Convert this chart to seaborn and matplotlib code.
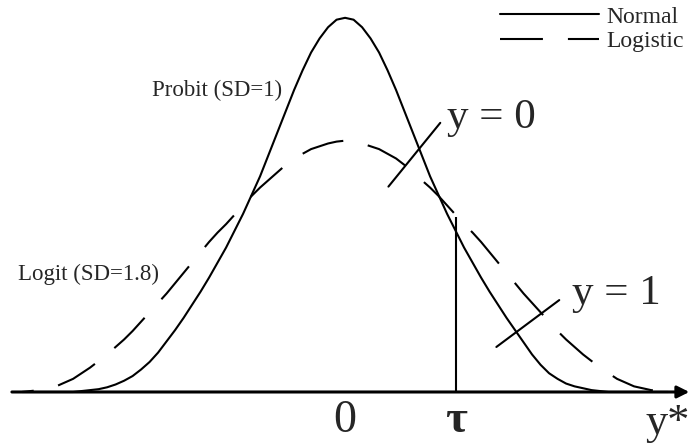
import matplotlib
matplotlib.use("Agg")
import numpy as np
import pandas as pd
import matplotlib.pyplot as plt
import seaborn as sns
from matplotlib.lines import Line2D

# Latent variable grid (in SD units of the probit curve), -3.8 .. 3.8 step 0.1
y_star = np.round(np.arange(-38, 39) / 10, 1)

# Heights (left tail -> peak -> right tail)
normal_density = [
    0.000, 0.000, 0.000, 0.000, 0.000, 0.000, 0.000, 0.001, 0.002,
    0.003, 0.005, 0.008, 0.012, 0.017, 0.024, 0.032, 0.042, 0.054, 0.066,
    0.079, 0.093, 0.107, 0.122, 0.138, 0.154, 0.172, 0.190, 0.210, 0.230,
    0.253, 0.276, 0.299, 0.322, 0.343, 0.362, 0.377, 0.389, 0.397,
    0.399,
    0.397, 0.389, 0.377, 0.362, 0.343, 0.322, 0.299, 0.276, 0.253, 0.230,
    0.210, 0.190, 0.172, 0.154, 0.138, 0.122, 0.107, 0.093, 0.079, 0.066,
    0.053, 0.040, 0.029, 0.020, 0.014, 0.009, 0.006, 0.004, 0.002, 0.001,
    0.000, 0.000, 0.000, 0.000, 0.000, 0.000, 0.000, 0.000]
logistic_density = [
    0.000, 0.001, 0.002, 0.004, 0.006, 0.010, 0.014, 0.020, 0.026,
    0.033, 0.040, 0.048, 0.056, 0.065, 0.075, 0.085, 0.095, 0.105, 0.116,
    0.127, 0.138, 0.149, 0.160, 0.170, 0.179, 0.189, 0.199, 0.209, 0.218,
    0.226, 0.234, 0.242, 0.249, 0.254, 0.259, 0.262, 0.265, 0.267,
    0.268,
    0.267, 0.265, 0.262, 0.259, 0.254, 0.249, 0.242, 0.234, 0.226,
    0.218, 0.209, 0.199, 0.189, 0.179, 0.170, 0.160, 0.149, 0.138, 0.127,
    0.116, 0.105, 0.095, 0.085, 0.075, 0.065, 0.056, 0.048, 0.040, 0.033,
    0.026, 0.020, 0.014, 0.010, 0.006, 0.004, 0.002, 0.001, 0.000]

# Threshold and the top of its marker line
tau = 1.3
tau_top = 0.187

# Leader lines for the outcome labels
lead0_x = [0.51, 1.12]
lead0_y = [0.219, 0.287]
lead1_x = [1.78, 2.52]
lead1_y = [0.048, 0.098]

df = pd.DataFrame({"y_star": y_star, "normal": normal_density, "logistic": logistic_density})

sns.set_style("white")
plt.rcParams["font.family"] = ["Liberation Serif", "DejaVu Serif"]

fig = plt.figure(figsize=(6.91, 4.46), dpi=100)
ax = fig.add_axes([0, 0, 1, 1])

LW = 1.5
DASH = (20.6, 12)

sns.lineplot(data=df, x="y_star", y="normal", ax=ax, color="black", linewidth=LW)
sns.lineplot(data=df, x="y_star", y="logistic", ax=ax, color="black", linewidth=LW,
             linestyle=(15, DASH))

# horizontal axis with arrow
ax.annotate("", xy=(4.05, 0), xytext=(-3.92, 0),
            arrowprops=dict(arrowstyle="-|>", lw=2.2, color="black",
                            mutation_scale=18, shrinkA=0, shrinkB=0))

ax.vlines(tau, 0, tau_top, color="black", linewidth=LW)
ax.plot(lead0_x, lead0_y, color="black", linewidth=LW)
ax.plot(lead1_x, lead1_y, color="black", linewidth=LW)

ax.text(-2.27, 0.316, "Probit (SD=1)", fontsize=16.5, ha="left", va="baseline")
ax.text(-3.85, 0.119, "Logit (SD=1.8)", fontsize=16.5, ha="left", va="baseline")
ax.text(1.2, 0.281, "y = 0", fontsize=31, ha="left", va="baseline")
ax.text(2.67, 0.0937, "y = 1", fontsize=31, ha="left", va="baseline")

ax.text(0.0, -0.0425, "0", fontsize=33, ha="center", va="baseline")
ax.text(tau, -0.0425, "τ", fontsize=34, ha="center", va="baseline", fontweight="bold")
ax.text(3.8, -0.0445, "y*", fontsize=32, ha="center", va="baseline")

handles = [Line2D([], [], color="black", linewidth=LW),
           Line2D([], [], color="black", linewidth=LW, linestyle=(0, DASH))]
ax.legend(handles, ["Normal", "Logistic"], loc="upper right", frameon=False,
          fontsize=17, handlelength=4.2, handletextpad=0.3, labelspacing=0.12,
          borderpad=0, borderaxespad=0, bbox_to_anchor=(684 / 691, 1 - 6 / 446))

ax.set_xlim(-4.06, 4.07)
ax.set_ylim(-0.0576, 0.418)
ax.axis("off")

fig.savefig("out.png", dpi=100)
